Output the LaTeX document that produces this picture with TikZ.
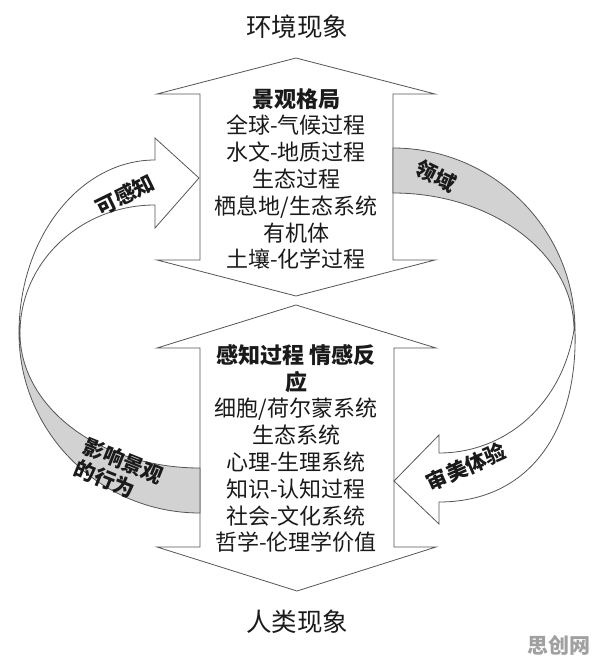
\documentclass[tikz,border=0pt]{standalone}
\usepackage{fontspec}
\newfontfamily\cjk{Noto Sans CJK SC}
\definecolor{lc}{HTML}{555555}
\definecolor{band}{HTML}{D2D2D2}
\definecolor{txt}{HTML}{1A1A1A}
\definecolor{wm}{HTML}{A0A0A0}
\begin{document}
\begin{tikzpicture}[x=1pt,y=-1pt,
  ln/.style={draw=lc, line width=0.8pt, line join=miter},
  body/.style={font=\cjk\fontsize{22}{26.8}\selectfont, align=center, text=txt, inner sep=0pt},
  ttl/.style={font=\cjk\fontsize{25.5}{30}\selectfont, text=txt, inner sep=0pt},
  lab/.style={font=\cjk\bfseries\fontsize{21}{24}\selectfont, text=txt, inner sep=0pt},
]
\useasboundingbox (0,0) rectangle (596,663);

% top double arrow
\path[ln, fill=white] (296,58) -- (435,94) -- (393,94) -- (393,260) -- (435,260)
  -- (296,296) -- (157,260) -- (200,260) -- (200,94) -- (157,94) -- cycle;
% lower double arrow
\path[ln, fill=white] (296,305) -- (436,348) -- (394,348) -- (394,547) -- (436,547)
  -- (297,591) -- (157,547) -- (200,547) -- (200,348) -- (157,348) -- cycle;

% right band (shaded, top part)
\path[ln, fill=band] (393,148) .. controls (493.5,148) and (575,229.5) .. (575,330)
  -- (574,330) .. controls (574,254.3) and (493,193) .. (393,193) -- cycle;
% right arrow (lower part)
\path[ln, fill=white] (575,330) .. controls (578,430) and (530,502) .. (439,502)
  -- (439,524) -- (394,481) -- (439,435) -- (439,453)
  .. controls (505,453) and (562,405) .. (574,330) -- cycle;

% left arrow (upper part)
\path[ln, fill=white] (19,333) .. controls (19,237.5) and (79.9,160) .. (155,160)
  -- (155,138) -- (199,178) -- (155,228) -- (155,205)
  .. controls (80.4,205) and (20,262.3) .. (20,333) -- cycle;
% left band (shaded, lower part)
\path[ln, fill=band] (19,333) .. controls (19,432.4) and (100,513) .. (200,513)
  -- (200,468) .. controls (100.6,468) and (20,407.6) .. (20,333) -- cycle;

% titles
\node[ttl] (envt) at (297,27) {环境现象};
\node[ttl] (humt) at (297,622) {人类现象};

% box texts
\node[body] (envb) at (296,179) {\textbf{景观格局}\\全球-气候过程\\水文-地质过程\\生态过程\\栖息地/生态系统\\有机体\\土壤-化学过程};
\node[body] (humb) at (296,448.5) {\textbf{感知过程 情感反}\\\textbf{应}\\细胞/荷尔蒙系统\\生态系统\\心理-生理系统\\知识-认知过程\\社会-文化系统\\哲学-伦理学价值};

% arrow labels
\node[lab, rotate=26] (l1) at (125,195) {可感知};
\node[lab, rotate=-26] (l2) at (436,176) {领域};
\node[lab, rotate=24] (l3) at (466,467) {审美体验};
\node[lab, rotate=-22, align=left] (l4) at (119,472) {影响景观\\的行为};

% watermark
\node[font=\cjk\bfseries\fontsize{21}{24}\selectfont, text=wm, inner sep=0pt] (wmk) at (559,645) {思创网};
\end{tikzpicture}
\end{document}
